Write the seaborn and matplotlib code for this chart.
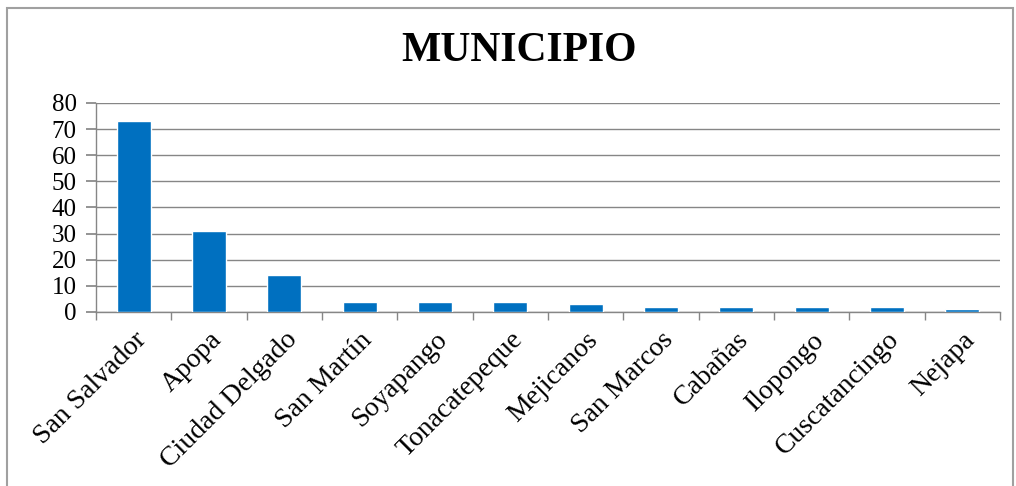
import numpy as np
import pandas as pd
import matplotlib
matplotlib.use("Agg")
import matplotlib.pyplot as plt
import seaborn as sns
from matplotlib.patches import Rectangle

municipios = ['San Salvador', 'Apopa', 'Ciudad Delgado', 'San Martín', 'Soyapango',
              'Tonacatepeque', 'Mejicanos', 'San Marcos', 'Cabañas', 'Ilopongo',
              'Cuscatancingo', 'Nejapa']
conteo = [73, 31, 14, 4, 4, 4, 3, 2, 2, 2, 2, 1]
yticks = [0, 10, 20, 30, 40, 50, 60, 70, 80]

df = pd.DataFrame({"municipio": municipios, "n": conteo})

sns.set_theme(style="white")
plt.rcParams['font.family'] = ['Liberation Serif', 'DejaVu Serif']
plt.rcParams['text.color'] = 'black'

fig = plt.figure(figsize=(10.16, 4.86), dpi=100)
ax = fig.add_axes([96/1016, 1 - 312/486, (1000-96)/1016, (312-103)/486])

sns.barplot(data=df, x="municipio", y="n", color="#0070C0", width=0.45,
            saturation=1, ax=ax, zorder=3)

ax.set_ylim(0, 80)
ax.set_xlim(-0.5, len(municipios) - 0.5)
ax.set_yticks(yticks)
ax.set_yticklabels([str(v) for v in yticks], fontsize=18)
ax.yaxis.grid(True, color="#868686", linewidth=1)
ax.set_axisbelow(True)
ax.tick_params(axis="y", length=7, color="#868686", direction="out", pad=7, left=True,
               labelcolor="black")

# tick marks between categories
ax.set_xticks(np.arange(len(municipios)))
ax.set_xticklabels(municipios, rotation=45, ha="right", rotation_mode="anchor", fontsize=20)
ax.tick_params(axis="x", length=0, pad=11, labelcolor="black")
ax.set_xticks(np.arange(len(municipios) + 1) - 0.5, minor=True)
ax.tick_params(axis="x", which="minor", length=6, color="#868686", direction="out", bottom=True)

for s in ["top", "right"]:
    ax.spines[s].set_visible(False)
for s in ["left", "bottom"]:
    ax.spines[s].set_color("#868686")
    ax.spines[s].set_linewidth(1)

ax.set_xlabel("")
ax.set_ylabel("")
fig.text(519/1016, 1 - 51/486, "MUNICIPIO", ha="center", va="center",
         fontsize=30, fontweight="bold", color="black")

fig.patches.append(Rectangle((7/1016, -0.1), 1006/1016, 1.1 - 8/486, transform=fig.transFigure,
                             fill=False, edgecolor="#A0A0A0", linewidth=1.5))

fig.savefig("out.png", dpi=100)
